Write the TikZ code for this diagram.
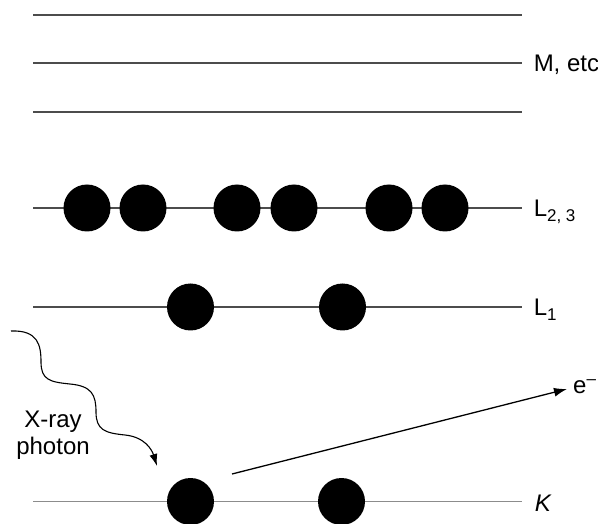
\documentclass[tikz,border=0pt]{standalone}
\usepackage{fontspec}
\setmainfont{Liberation Sans}
\usetikzlibrary{arrows.meta}
\newcommand{\lsub}[1]{\raisebox{-5pt}{\fontsize{17}{17}\selectfont #1}}
\newcommand{\lsup}[1]{\raisebox{9pt}{\fontsize{17}{17}\selectfont #1}}
\tikzset{shell/.style = {line width=1.5pt, black!70},
         electron/.style = {circle, fill=black, minimum size=47pt, inner sep=0pt},
         lbl/.style = {anchor=base west, inner sep=0pt, black, font=\fontsize{24}{27}\selectfont},
         ray/.style = {line width=1.1pt, -{Latex[length=12pt,width=8pt]}}}

\begin{document}
\begin{tikzpicture}[x=1pt,y=-1pt]
    \useasboundingbox (0,0) rectangle (598,524);

    % outer shells
    \draw[shell] (33,15) -- (522,15);
    \draw[shell] (33,63) -- (522,63) coordinate (m) node[lbl, xshift=11pt, yshift=-9pt] (mlab) {M, etc};
    \draw[shell] (33,112) -- (522,112);

    % L shells
    \draw[shell] (33,208) -- (522,208) coordinate (l23) node[lbl, xshift=11pt, yshift=-9pt] (l23lab) {L\lsub{2, 3}};
    \draw[shell] (33,307) -- (522,307) coordinate (l1) node[lbl, xshift=11pt, yshift=-9pt] (l1lab) {L\lsub{1}};
    \node[electron] (e1) at (87,208) {};
    \node[electron] (e2) at (143,208) {};
    \node[electron] (e3) at (237,208) {};
    \node[electron] (e4) at (294,208) {};
    \node[electron] (e5) at (389,208) {};
    \node[electron] (e6) at (445,208) {};
    \node[electron] (e7) at (190.5,307) {};
    \node[electron] (e8) at (342.5,307) {};

    % K shell
    \draw[shell, black!45, line width=1.8pt] (33,501.5) -- (522,501.5) coordinate (k) node[lbl, xshift=12pt, yshift=-10pt] (klab) {\itshape K};
    \node[electron] (k1) at (190.5,501.5) {};
    \node[electron] (k2) at (341.5,501.5) {};

    % incoming photon
    \coordinate (src) at (11,331);
    \coordinate (hit) at (157,466);
    \node[align=center, inner sep=0pt, font=\fontsize{24}{27}\selectfont] (phlab) at (53,435) {X-ray\\photon};
    \draw[ray] (src)
        .. controls (38,330) and (41,345) .. (41,362)
        .. controls (41,380) and (50,382) .. (70,384)
        .. controls (92,386) and (96,395) .. (96,412)
        .. controls (96,430) and (105,433) .. (125,435)
        .. controls (145,437) and (152,450) .. (hit);

    % ejected electron
    \coordinate (out) at (232,474);
    \node[lbl] (elab) at (573,393) {e\lsup{--}};
    \draw[ray, line width=1.3pt, -{Latex[length=13pt,width=9pt]}] (out) -- (567,389) coordinate (tip);
\end{tikzpicture}
\end{document}
